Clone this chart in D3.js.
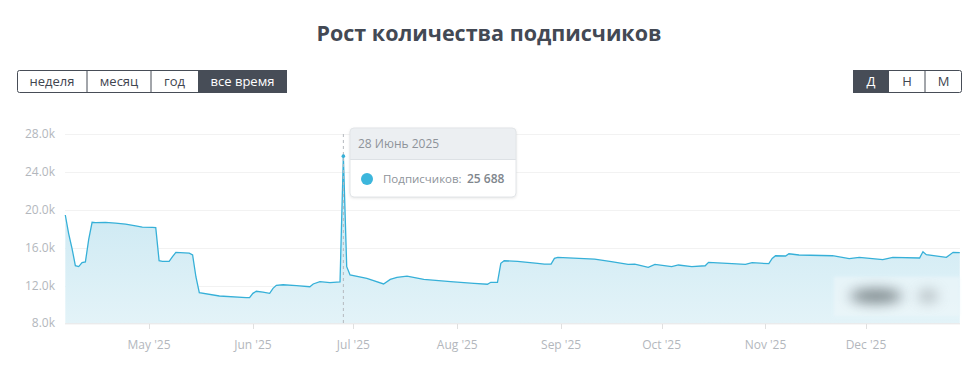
<!DOCTYPE html>
<html><head><meta charset="utf-8">
<script src="https://cdn.jsdelivr.net/npm/d3@7"></script>
<style>
html,body{margin:0;padding:0;background:#fff;}
svg{display:block;font-family:"Open Sans","Noto Sans",sans-serif;}
</style></head>
<body><svg id="c" width="971" height="380"></svg>
<script>
const title = "Рост количества подписчиков";
const periodButtons = ["неделя","месяц","год","все время"];
const groupButtons = ["Д","Н","М"];
const dates = ["2025-04-06","2025-04-07","2025-04-08","2025-04-09","2025-04-10","2025-04-11","2025-04-12","2025-04-13","2025-04-14","2025-04-15","2025-04-18","2025-04-21","2025-04-24","2025-04-27","2025-04-29","2025-05-02","2025-05-03","2025-05-04","2025-05-05","2025-05-07","2025-05-08","2025-05-09","2025-05-13","2025-05-14","2025-05-15","2025-05-16","2025-05-22","2025-05-30","2025-05-31","2025-06-01","2025-06-02","2025-06-04","2025-06-06","2025-06-07","2025-06-08","2025-06-10","2025-06-14","2025-06-18","2025-06-19","2025-06-21","2025-06-24","2025-06-27","2025-06-28","2025-06-29","2025-06-30","2025-07-05","2025-07-10","2025-07-12","2025-07-14","2025-07-17","2025-07-22","2025-07-30","2025-08-06","2025-08-10","2025-08-11","2025-08-13","2025-08-14","2025-08-15","2025-08-19","2025-08-25","2025-08-27","2025-08-29","2025-08-30","2025-08-31","2025-09-11","2025-09-16","2025-09-21","2025-09-23","2025-09-27","2025-09-29","2025-10-04","2025-10-06","2025-10-10","2025-10-14","2025-10-15","2025-10-22","2025-10-26","2025-10-28","2025-11-02","2025-11-03","2025-11-04","2025-11-07","2025-11-08","2025-11-11","2025-11-21","2025-11-26","2025-11-29","2025-12-06","2025-12-09","2025-12-17","2025-12-18","2025-12-19","2025-12-25","2025-12-27","2025-12-29"];
const subscribers = [19460,17500,15940,14100,14000,14420,14500,16900,18690,18650,18690,18600,18500,18300,18180,18160,18130,14620,14560,14560,15050,15500,15420,15230,12900,11240,10890,10710,10710,11170,11390,11300,11170,11700,12020,12080,11980,11870,12160,12400,12300,12370,25688,13990,13110,12760,12160,12650,12870,13000,12650,12400,12230,12130,12340,12340,14350,14620,14560,14350,14270,14270,14870,14980,14800,14520,14240,14270,13920,14240,13990,14170,13990,14090,14450,14310,14240,14410,14310,14870,15150,15120,15360,15230,15150,14840,14980,14730,14980,14910,15580,15260,14980,15510,15470];
const yTicks = [8000,12000,16000,20000,24000,28000];
const xTickMonths = ["2025-05-01","2025-06-01","2025-07-01","2025-08-01","2025-09-01","2025-10-01","2025-11-01","2025-12-01"];
const tooltipDate = "2025-06-28";
const tooltipTitle = "28 Июнь 2025";
const tooltipLabel = "Подписчиков:";
const tooltipValue = "25 688";

const parse = d3.utcParse("%Y-%m-%d");
const data = dates.map((d,i)=>({date:parse(d), value:subscribers[i]}));
const svg = d3.select("#c");

const x = d3.scaleUtc().domain([parse("2025-04-06"), parse("2025-12-29")]).range([65.3, 959.8]);
const y = d3.scaleLinear().domain([8000, 28000]).range([323.3, 134.3]);

// title
svg.append("text").attr("x", 489).attr("y", 41).attr("text-anchor","middle")
  .attr("font-size", 21.5).attr("font-weight", 700).attr("fill", "#434954").text(title);

// buttons
function buttonGroup(labels, xs, activeIdx){
  const g = svg.append("g");
  const y0 = 70, h = 23;
  labels.forEach((l,i)=>{
    const x0 = xs[i], w = xs[i+1]-xs[i];
    if(i===activeIdx){
      g.append("rect").attr("x",x0).attr("y",y0).attr("width",w).attr("height",h).attr("fill","#474d57");
    }
    g.append("text").attr("x",x0+w/2).attr("y",y0+16).attr("text-anchor","middle")
      .attr("font-size",13).attr("fill", i===activeIdx?"#fff":"#3f4550").text(l);
    if(i>0 && i!==activeIdx && i-1!==activeIdx)
      g.append("line").attr("x1",x0).attr("x2",x0).attr("y1",y0).attr("y2",y0+h).attr("stroke","#474d57").attr("stroke-width",1);
  });
  g.append("rect").attr("x",xs[0]+0.5).attr("y",y0+0.5).attr("width",xs[xs.length-1]-xs[0]-1).attr("height",h-1)
    .attr("rx",2).attr("fill","none").attr("stroke","#474d57").attr("stroke-width",1);
}
buttonGroup(periodButtons, [17,87,151,198,287], 3);
buttonGroup(groupButtons, [853,889,925,962], 0);

// gridlines
svg.append("g").selectAll("line").data(yTicks.slice(1)).join("line")
  .attr("x1", 65).attr("x2", 960).attr("y1", d=>Math.round(y(d))+0.5).attr("y2", d=>Math.round(y(d))+0.5)
  .attr("stroke", "#f2f2f2");

// y axis labels
svg.append("g").selectAll("text").data(yTicks).join("text")
  .attr("x", 55).attr("y", d=>y(d)+4).attr("text-anchor","end")
  .attr("font-size", 12).attr("fill", "#b3b7bd").text(d=>(d/1000).toFixed(1)+"k");

// gradient
const defs = svg.append("defs");
const grad = defs.append("linearGradient").attr("id","ag").attr("x1",0).attr("x2",0).attr("y1",0).attr("y2",1);
grad.append("stop").attr("offset","0%").attr("stop-color","#c4e5f1");
grad.append("stop").attr("offset","100%").attr("stop-color","#e3f3f8");
const blur = defs.append("filter").attr("id","bl").attr("x","-100%").attr("y","-200%").attr("width","300%").attr("height","500%");
blur.append("feGaussianBlur").attr("stdDeviation", 6.5);
const blur2 = defs.append("filter").attr("id","bl2").attr("x","-20%").attr("y","-20%").attr("width","140%").attr("height","140%");
blur2.append("feGaussianBlur").attr("stdDeviation", 1.5);

const area = d3.area().x(d=>x(d.date)).y0(y(8000)).y1(d=>y(d.value)).curve(d3.curveLinear);
const line = d3.line().x(d=>x(d.date)).y(d=>y(d.value)).curve(d3.curveLinear);
svg.append("path").datum(data).attr("d", area).attr("fill","url(#ag)");

// blurred watermark
const wm = svg.append("g");
wm.append("rect").attr("x",834).attr("y",277).attr("width",126).attr("height",39).attr("fill","#eef7fa").attr("opacity",0.65).attr("filter","url(#bl2)");
wm.append("ellipse").attr("cx",876).attr("cy",296).attr("rx",26).attr("ry",7).attr("fill","#758084").attr("opacity",0.95).attr("filter","url(#bl)");
wm.append("ellipse").attr("cx",928).attr("cy",296).attr("rx",10).attr("ry",6).attr("fill","#8a9397").attr("opacity",0.6).attr("filter","url(#bl)");

svg.append("path").datum(data).attr("d", line).attr("fill","none").attr("stroke","#36b0d8").attr("stroke-width",1.3);

// x axis
svg.append("line").attr("x1",65).attr("x2",960).attr("y1",323.8).attr("y2",323.8).attr("stroke","#e4e4e4");
const xt = xTickMonths.map(parse);
svg.append("g").selectAll("line").data(xt).join("line")
  .attr("x1", d=>Math.round(x(d))+0.5).attr("x2", d=>Math.round(x(d))+0.5).attr("y1",324).attr("y2",329)
  .attr("stroke","#e0e0e0");
const fmt = d3.utcFormat("%b '%y");
svg.append("g").selectAll("text").data(xt).join("text")
  .attr("x", d=>x(d)).attr("y", 349).attr("text-anchor","middle")
  .attr("font-size", 12).attr("fill","#b3b7bd").text(d=>fmt(d));

// hover crosshair
const td = parse(tooltipDate);
const tv = subscribers[dates.indexOf(tooltipDate)];
svg.append("line").attr("x1",x(td)).attr("x2",x(td)).attr("y1",134).attr("y2",324)
  .attr("stroke","#b5b9bf").attr("stroke-width",1).attr("stroke-dasharray","3,3");
svg.append("circle").attr("cx",x(td)).attr("cy",y(tv)).attr("r",1.8).attr("fill","#36b0d8");

// tooltip
const shadow = defs.append("filter").attr("id","sh").attr("x","-10%").attr("y","-10%").attr("width","120%").attr("height","130%");
shadow.append("feDropShadow").attr("dx",0).attr("dy",1).attr("stdDeviation",1.5).attr("flood-color","#000").attr("flood-opacity",0.12);
const tt = svg.append("g").attr("transform","translate(350,128)");
tt.append("rect").attr("width",166).attr("height",69).attr("rx",4).attr("fill","#fff").attr("filter","url(#sh)");
tt.append("path").attr("d","M0,31 V4 A4,4 0 0 1 4,0 H162 A4,4 0 0 1 166,4 V31 Z").attr("fill","#eceff2");
tt.append("line").attr("x1",0).attr("x2",166).attr("y1",31.5).attr("y2",31.5).attr("stroke","#dde1e5");
tt.append("rect").attr("width",166).attr("height",69).attr("rx",4).attr("fill","none").attr("stroke","#e2e5e8");
tt.append("text").attr("x",8).attr("y",20).attr("font-size",12).attr("fill","#8e939a").text(tooltipTitle);
tt.append("circle").attr("cx",17).attr("cy",51).attr("r",6).attr("fill","#3cb6dc");
tt.append("text").attr("x",33).attr("y",55).attr("font-size",11.5).attr("fill","#8e939a").text(tooltipLabel);
tt.append("text").attr("x",117).attr("y",55).attr("font-size",12).attr("font-weight",600).attr("fill","#80868d").text(tooltipValue);
</script></body></html>
